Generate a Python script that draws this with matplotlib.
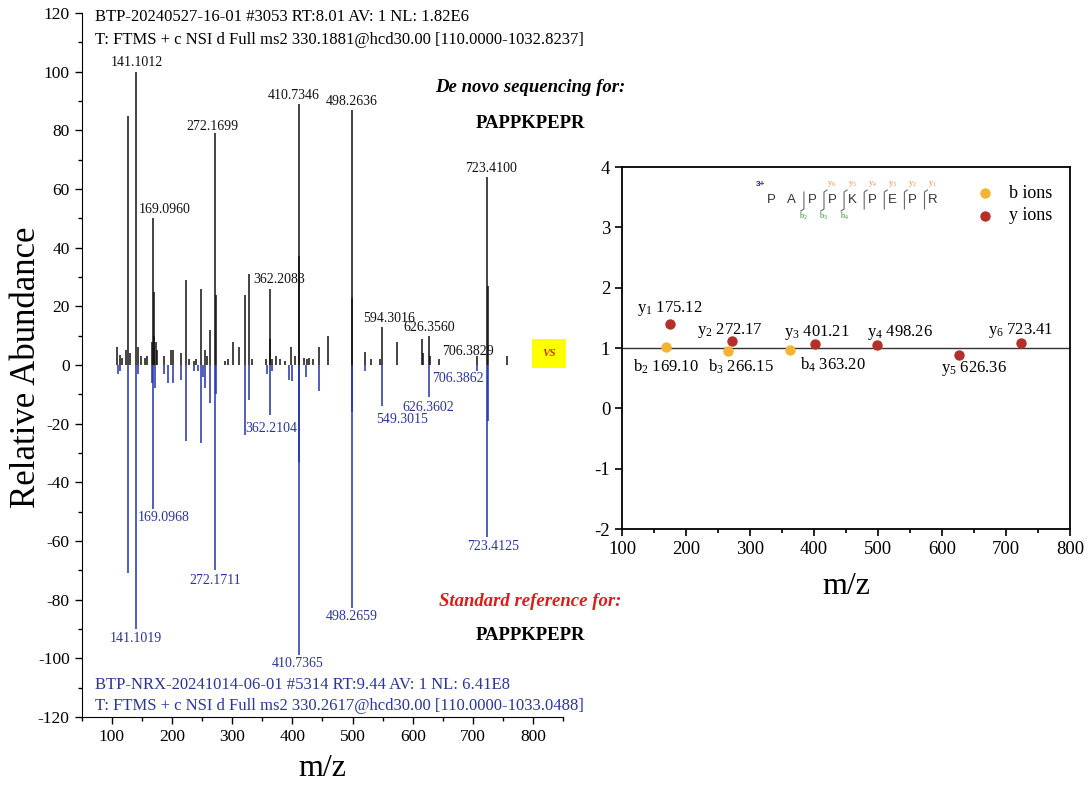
import matplotlib
matplotlib.use('Agg')
import matplotlib.pyplot as plt
from matplotlib.ticker import MultipleLocator

plt.rcParams['font.family'] = ['Liberation Serif', 'DejaVu Serif']
plt.rcParams['mathtext.fontset'] = 'custom'
plt.rcParams['mathtext.rm'] = 'Liberation Serif'
plt.rcParams['mathtext.it'] = 'Liberation Serif:italic'
plt.rcParams['axes.unicode_minus'] = False

# --- spectrum of the sample (upward, black) ---
top_mz = [109.5, 114, 117, 124, 127.1, 130, 141.1012, 143.5, 148, 156, 159, 167.2, 169.096, 170.1, 171, 173, 175,
          187, 198, 202, 215, 223.1, 228, 236, 240, 247.6, 255, 258, 263.2, 272.1699, 273.2, 289, 293, 301, 312,
          320.7, 327.4, 333, 356, 362.2083, 363.2, 367, 373, 380, 388, 398, 405, 410.7346, 411.23, 419, 424, 428,
          434, 444, 459, 498.2636, 498.76, 521, 530, 546, 549.3016, 573.5, 615, 617, 626.356, 628, 643, 706.3829,
          723.41, 724.41, 756]
top_int = [6, 3.5, 2.5, 5, 85, 4, 100, 6, 3, 2.5, 3, 8, 50, 25, 10, 8, 5,
           3, 5, 5, 4, 29, 2, 1.5, 2, 26, 5, 3, 12, 79, 24, 1.5, 2, 8, 6,
           24, 31, 2, 2, 26, 9, 2, 3, 2, 1.5, 6, 3, 89, 37, 2.5, 2, 2.5,
           2, 6, 10, 87, 23, 4.5, 2, 2, 13, 8, 9, 4, 10, 3, 2, 3,
           64, 27, 3]

# --- standard reference spectrum (downward, blue) ---
ref_mz = [110, 114, 127.1, 141.1019, 144, 167, 169.0968, 172, 187, 193.6, 202, 215, 223.1, 236, 243, 247.6, 252,
          255, 263.2, 272.1711, 273.2, 320.7, 327.4, 358, 362.2104, 367, 395, 400, 410.7365, 411.23, 422, 444,
          498.2659, 498.76, 520, 549.3015, 626.3602, 706.3862, 723.4125, 724.41]
ref_int = [-3, -2, -71, -90, -3, -6, -49, -8, -3, -6, -6, -5, -26, -2, -2, -26.5, -4,
           -8, -13, -70, -10, -24, -12, -3, -17, -2, -5, -5.5, -99, -33, -4, -9,
           -83, -16, -2, -14, -11, -2, -58.5, -19]

# labelled peaks
top_lab_text = ['141.1012', '169.0960', '272.1699', '362.2083', '410.7346', '498.2636', '594.3016', '626.3560',
                '706.3829', '723.4100']
top_lab_mz = [141.1012, 169.096, 272.1699, 362.2083, 410.7346, 498.2636, 549.3016, 626.356, 706.3829, 723.41]
top_lab_int = [100, 50, 79, 26, 89, 87, 13, 10, 3, 64]
top_lab_off = [(0, 9), (11, 9), (-3, 7), (10, 9), (-5, 8), (0, 8), (7, 8), (1, 8), (-9, 5), (4, 9)]

ref_lab_text = ['141.1019', '169.0968', '272.1711', '362.2104', '410.7365', '498.2659', '549.3015', '626.3602',
                '706.3862', '723.4125']
ref_lab_mz = [141.1019, 169.0968, 272.1711, 362.2104, 410.7365, 498.2659, 549.3015, 626.3602, 706.3862, 723.4125]
ref_lab_int = [-90, -49, -70, -17, -99, -83, -14, -11, -2, -58.5]
ref_lab_off = [(-1, -10), (10, -9), (0, -10), (2, -14), (-1, -8), (0, -8), (20, -13), (0, -10), (-19, -8), (6, -10)]

# --- ion ladder (right panel) ---
b_names = ['2', '3', '4']
b_mz = [169.10, 266.15, 363.20]
b_val = [1.02, 0.95, 0.97]
y_names = ['1', '2', '3', '4', '5', '6']
y_mz = [175.12, 272.17, 401.21, 498.26, 626.36, 723.41]
y_val = [1.40, 1.12, 1.06, 1.05, 0.89, 1.09]
b_off = [(0, -20), (13, -16), (42, -15)]
y_off = [(0, 15), (-2, 10), (2, 12), (23, 12), (15, -14), (0, 12)]

sequence = list('PAPPKPEPR')

W, H = 1088, 792
BLACK = '#111111'
BLUE = '#2a3596'
RED = '#e01b1b'


def px(x, y):
    return x / W, 1 - y / H


fig = plt.figure(figsize=(10.88, 7.92), dpi=100)

# ================= left: mirror spectrum =================
ax1 = fig.add_axes([81.5 / W, 1 - 717 / H, 481.9 / W, 704 / H])
ax1.vlines(top_mz, 0, top_int, color=BLACK, lw=1.1)
ax1.vlines(ref_mz, 0, ref_int, color='#2233aa', lw=1.1)
ax1.set_xlim(50, 850)
ax1.set_ylim(-120, 120)
ax1.xaxis.set_major_locator(MultipleLocator(100))
ax1.xaxis.set_minor_locator(MultipleLocator(50))
ax1.yaxis.set_major_locator(MultipleLocator(20))
ax1.yaxis.set_minor_locator(MultipleLocator(10))
ax1.set_xticks(range(100, 900, 100))
ax1.spines['top'].set_visible(False)
ax1.spines['right'].set_visible(False)
ax1.tick_params(labelsize=12.5, length=5, width=1)
ax1.tick_params(which='minor', length=3, width=1)

for t, m, v, (dx, dy) in zip(top_lab_text, top_lab_mz, top_lab_int, top_lab_off):
    ax1.annotate(t, xy=(m, v), xytext=(dx, dy), textcoords='offset pixels',
                 ha='center', va='center', fontsize=10, color=BLACK)
for t, m, v, (dx, dy) in zip(ref_lab_text, ref_lab_mz, ref_lab_int, ref_lab_off):
    ax1.annotate(t, xy=(m, v), xytext=(dx, dy), textcoords='offset pixels',
                 ha='center', va='center', fontsize=10, color=BLUE)

# headers
fig.text(*px(95, 17), 'BTP-20240527-16-01 #3053 RT:8.01 AV: 1 NL: 1.82E6', fontsize=12, va='center')
fig.text(*px(95, 40), 'T: FTMS + c NSI d Full ms2 330.1881@hcd30.00 [110.0000-1032.8237]', fontsize=12, va='center')
fig.text(*px(95, 685), 'BTP-NRX-20241014-06-01 #5314 RT:9.44 AV: 1 NL: 6.41E8', fontsize=12, va='center', color=BLUE)
fig.text(*px(95, 706), 'T: FTMS + c NSI d Full ms2 330.2617@hcd30.00 [110.0000-1033.0488]', fontsize=12,
         va='center', color=BLUE)

fig.text(*px(530, 88), 'De novo sequencing for:', fontsize=13.5, weight='bold', style='italic', ha='center', va='center')
fig.text(*px(530, 124), 'PAPPKPEPR', fontsize=13.5, weight='bold', ha='center', va='center')
fig.text(*px(530, 602), 'Standard reference for:', fontsize=13.5, weight='bold', style='italic', ha='center',
         va='center', color=RED)
fig.text(*px(530, 635), 'PAPPKPEPR', fontsize=13.5, weight='bold', ha='center', va='center')

fig.text(*px(549, 353), 'VS', fontsize=8, weight='bold', style='italic', color='#d0301a', ha='center', va='center',
         bbox=dict(boxstyle='square,pad=0.9', fc='#ffff00', ec='none'))

fig.text(*px(27, 367), 'Relative Abundance', fontsize=25, rotation=90, ha='center', va='center')
fig.text(*px(322, 768), 'm/z', fontsize=23, ha='center', va='center')

# ================= right: ion ladder =================
ax2 = fig.add_axes([622 / W, 1 - 529 / H, 448 / W, 362 / H])
ax2.axhline(1, color='#333333', lw=1.0, zorder=1)
ax2.scatter(b_mz, b_val, s=42, color='#f5b335', zorder=3, label='b ions')
ax2.scatter(y_mz, y_val, s=42, color='#b3302a', zorder=3, label='y ions')
ax2.set_xlim(100, 800)
ax2.set_ylim(-2, 4)
ax2.xaxis.set_major_locator(MultipleLocator(100))
ax2.xaxis.set_minor_locator(MultipleLocator(50))
ax2.yaxis.set_major_locator(MultipleLocator(1))
ax2.tick_params(labelsize=13.5, length=5, width=1.2)
ax2.tick_params(which='minor', length=3, width=1.2)
for s in ax2.spines.values():
    s.set_linewidth(1.3)

for n, m, v, (dx, dy) in zip(b_names, b_mz, b_val, b_off):
    ax2.annotate('b$_{%s}$ %.2f' % (n, m), xy=(m, v), xytext=(dx, dy), textcoords='offset pixels',
                 ha='center', va='center', fontsize=12)
for n, m, v, (dx, dy) in zip(y_names, y_mz, y_val, y_off):
    ax2.annotate('y$_{%s}$ %.2f' % (n, m), xy=(m, v), xytext=(dx, dy), textcoords='offset pixels',
                 ha='center', va='center', fontsize=12)

leg = ax2.legend(loc='upper right', frameon=False, fontsize=13, handletextpad=0.3, borderaxespad=0.6,
                 labelspacing=0.3, scatterpoints=1)

# fragment diagram
def fx(x):
    return (x - 622) / 448


def fy(y):
    return (529 - y) / 362


tr = ax2.transAxes
for i, aa in enumerate(sequence):
    ax2.text(fx(771.7 + 20.1 * i), fy(200), aa, transform=tr, fontsize=9.5, family='Liberation Sans',
             color='#333333', ha='center', va='center')
ax2.text(fx(761), fy(185), '3+', transform=tr, fontsize=6, family='Liberation Sans', weight='bold',
         color='#2020c0', ha='center', va='center')
for k in range(7):
    sx = 771.7 + 20.1 * (k + 2) - 8
    xs = [sx, sx]
    ys = [192, 209]
    if k >= 1:
        xs = [sx + 3] + xs
        ys = [190] + ys
    if k <= 2:
        xs = xs + [sx - 3]
        ys = ys + [211]
    ax2.plot([fx(v) for v in xs], [fy(v) for v in ys], transform=tr, color='#666666', lw=0.8)
for k in range(3):
    ax2.text(fx(771.7 + 20.1 * (k + 2) - 8), fy(216), 'b$_{%d}$' % (k + 2), transform=tr, fontsize=6,
             color='#2e9b2e', ha='center', va='center')
for k in range(6):
    ax2.text(fx(771.7 + 20.1 * (k + 3)), fy(184), 'y$_{%d}$' % (6 - k), transform=tr, fontsize=6,
             color='#f08a48', ha='center', va='center')

fig.text(*px(846, 587), 'm/z', fontsize=23, ha='center', va='center')

plt.savefig('out.png', dpi=100)
